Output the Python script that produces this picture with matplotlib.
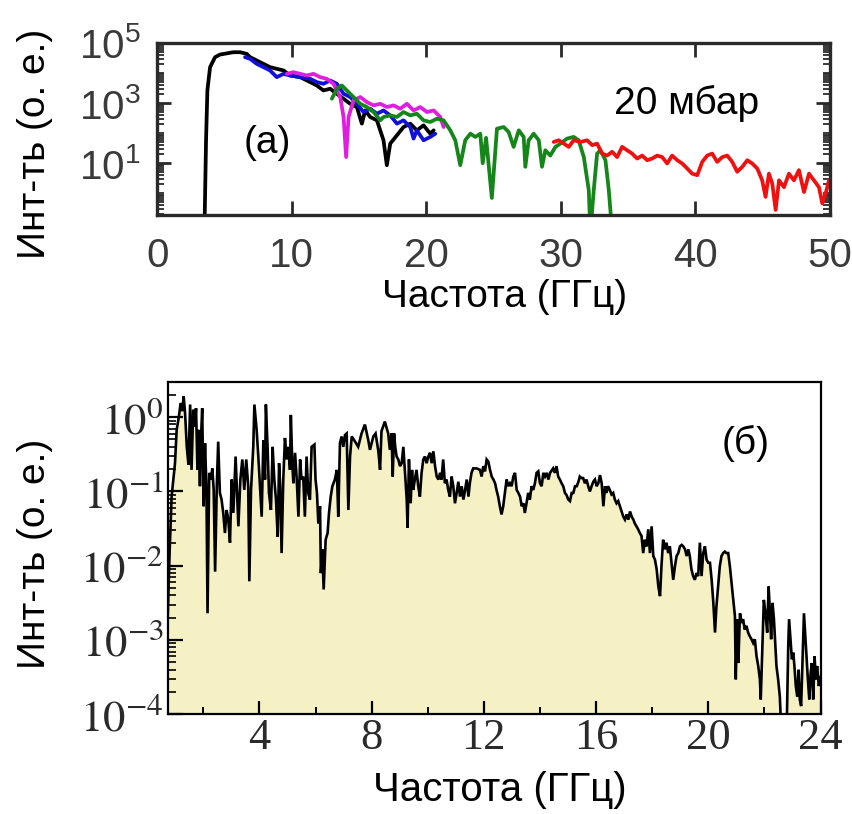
import matplotlib
matplotlib.use("Agg")
import matplotlib.pyplot as plt
import numpy as np
from matplotlib.ticker import LogLocator, NullFormatter, MultipleLocator

# ---------------- data: panel (a) ----------------
black_f = [3.50, 3.62, 3.72, 3.92, 4.29, 4.66, 5.65, 6.15, 6.65, 6.90, 7.64, 8.38, 9.38, 9.87,
           10.62, 11.36, 11.86, 12.35, 12.85, 13.35, 14.34, 14.84, 15.21, 15.46, 15.83, 16.33,
           16.82, 17.07, 17.32, 17.82, 18.31, 18.81, 19.30, 19.80, 20.30, 20.55]
black_I = [0.05, 58, 2640, 15700, 33700, 41200, 49300, 49300, 43400, 33700, 23000, 15700, 12200, 8300,
           7300, 5000, 3860, 2640, 3000, 2050, 950, 740, 207, 570, 345, 267,
           58, 8.6, 45, 85, 160, 207, 124, 182, 96, 124]

blue_f = [6.52, 6.90, 7.39, 7.89, 8.38, 8.88, 9.38, 9.87, 10.62, 11.36, 11.86, 12.35, 12.85, 13.35,
          13.85, 14.34, 14.84, 15.33, 15.83, 16.33, 16.82, 17.32, 17.82, 18.31, 18.81, 19.06,
          19.30, 19.80, 20.30, 20.67]
blue_I = [33700, 29600, 20200, 15700, 12200, 7300, 9400, 8300, 7300, 6430, 5000, 4390, 5660, 4390,
          2050, 1590, 950, 505, 650, 444, 570, 390, 207, 267, 160, 66,
          124, 58, 75, 96]

magenta_f = [9.63, 10.12, 10.62, 11.11, 11.61, 12.11, 12.60, 13.10, 13.60, 13.85, 14.04, 14.22,
             14.59, 15.09, 15.58, 16.08, 16.58, 17.07, 17.57, 18.06, 18.56, 19.06, 19.55, 20.05,
             20.55, 21.04, 21.29]
magenta_I = [9400, 10700, 9400, 8300, 9400, 7300, 6430, 4390, 1590, 345, 16, 345,
             1230, 1590, 1080, 840, 950, 740, 840, 650, 950, 570, 740, 505,
             570, 345, 160]

green_f = [12.98, 13.35, 13.72, 14.09, 14.59, 15.09, 15.58, 16.08, 16.58, 16.82, 17.32, 17.82,
           18.31, 18.81, 19.30, 19.80, 20.30, 20.79, 21.29, 21.79, 22.16, 22.53, 22.90, 23.28,
           23.65, 24.02, 24.20, 24.45, 24.88, 25.26, 25.76, 26.13, 26.50, 26.88, 27.25, 27.37,
           27.62, 27.99, 28.37, 28.61, 28.86, 29.23, 29.61, 29.98, 30.47, 30.97, 31.34, 31.72,
           32.09, 32.21, 32.46, 32.71, 32.96, 33.33, 33.58, 33.83]
green_I = [1400, 3000, 3860, 2640, 1590, 950, 740, 505, 267, 345, 390, 345,
           505, 390, 444, 267, 235, 303, 267, 124, 58, 8.6, 58, 96,
           75, 96, 10, 70, 0.7, 141, 160, 109, 35, 124, 75, 7.6,
           58, 96, 58, 7.6, 27, 18, 35, 45, 66, 75, 58, 16,
           1.27, 0.05, 1.27, 21, 27, 12.6, 1.27, 0.05]

red_f = [29.48, 29.85, 30.23, 30.60, 30.97, 31.47, 31.96, 32.34, 32.71, 33.08, 33.45, 33.83,
         34.20, 34.57, 34.94, 35.31, 35.69, 36.06, 36.43, 36.80, 37.18, 37.55, 37.92, 38.29,
         38.67, 39.04, 39.41, 39.78, 40.16, 40.53, 40.90, 41.27, 41.64, 42.02, 42.39, 42.76,
         43.13, 43.51, 43.88, 44.25, 44.62, 44.99, 45.24, 45.49, 45.74, 45.99, 46.24, 46.61,
         46.98, 47.35, 47.72, 48.10, 48.47, 48.84, 49.21, 49.46, 49.71, 49.96]
red_I = [51, 58, 45, 35, 58, 51, 58, 40, 45, 21, 18, 24,
         16, 35, 27, 21, 14.3, 18, 12.6, 14.3, 18, 16, 9.8, 18,
         12.6, 9.8, 6.7, 4.5, 4.0, 11.1, 18, 21, 11.1, 16, 18, 11.1,
         5.2, 7.6, 12.6, 9.8, 6.7, 2.7, 0.76, 4.5, 2.1, 0.28, 2.7, 1.6,
         4.5, 2.7, 5.9, 1.1, 4.5, 2.7, 1.6, 0.46, 1.0, 2.7]

series_a = [
    (black_f, black_I, "#000000"),
    (blue_f, blue_I, "#1010d8"),
    (magenta_f, magenta_I, "#e01ee0"),
    (green_f, green_I, "#15861a"),
    (red_f, red_I, "#f01010"),
]

top_yticks = [1e1, 1e3, 1e5]
top_xticks = [0, 10, 20, 30, 40, 50]

# ---------------- data: panel (б) : (frequency GHz, log10 intensity) ----------------
spectrum_b = [
    (0.73, -2.70), (0.80, -1.80), (0.87, -1.07), (0.99, -0.62), (1.05, -0.17), (1.13, 0.01),
    (1.19, 0.19), (1.25, 0.08), (1.30, 0.28), (1.35, 0.05), (1.41, -0.40), (1.47, -0.64),
    (1.53, 0.17), (1.58, -0.71), (1.64, 0.10), (1.70, -0.13), (1.74, 0.12), (1.79, -0.71),
    (1.82, -0.17), (1.88, -0.93), (1.92, -0.26), (1.96, 0.12), (2.01, -1.20), (2.06, -0.35),
    (2.11, -0.93), (2.15, -2.64), (2.21, -0.75), (2.27, -0.84), (2.32, -0.69), (2.37, -0.98),
    (2.42, -2.08), (2.48, -0.93), (2.53, -0.33), (2.59, -1.02), (2.65, -1.11), (2.71, -1.29),
    (2.77, -1.56), (2.83, -1.25), (2.89, -1.38), (2.95, -1.69), (3.01, -0.84), (3.07, -1.29),
    (3.15, -0.53), (3.25, -1.47), (3.32, -0.84), (3.39, -0.57), (3.46, -0.98), (3.53, -0.57),
    (3.60, -0.93), (3.64, -2.21), (3.70, -0.98), (3.78, -0.40), (3.82, 0.17), (3.90, -0.17),
    (3.96, -0.53), (4.02, -0.93), (4.08, -1.34), (4.14, -0.31), (4.20, -0.84), (4.23, 0.17),
    (4.29, -0.40), (4.34, -1.02), (4.41, -1.25), (4.47, -0.40), (4.53, -0.84), (4.59, -1.11),
    (4.65, -1.61), (4.70, -0.62), (4.74, -0.93), (4.79, -1.83), (4.85, -0.84), (4.91, -0.28),
    (4.97, -0.57), (5.03, -0.40), (5.09, -0.71), (5.12, 0.03), (5.17, -0.62), (5.21, -0.89),
    (5.27, -0.48), (5.33, -0.84), (5.39, -1.34), (5.45, -0.57), (5.50, -0.84), (5.56, -0.80),
    (5.62, -1.34), (5.68, -0.53), (5.74, -1.02), (5.80, -1.11), (5.86, -0.40), (5.96, -0.37),
    (6.00, -0.84), (6.05, -1.02), (6.10, -1.43), (6.16, -1.20), (6.19, -2.10), (6.24, -1.78),
    (6.29, -2.32), (6.36, -1.65), (6.43, -1.56), (6.48, -1.29), (6.54, -1.07), (6.60, -0.93),
    (6.69, -0.84), (6.76, -0.71), (6.81, -1.34), (6.87, -0.35), (6.93, -0.26), (6.99, -0.40),
    (7.05, -0.24), (7.11, -0.22), (7.17, -1.25), (7.23, -0.53), (7.29, -0.26), (7.41, -0.33),
    (7.52, -0.40), (7.64, -0.22), (7.76, -0.10), (7.88, -0.31), (7.94, -0.44), (8.06, -0.26),
    (8.14, -0.22), (8.24, -0.46), (8.30, -0.71), (8.35, -0.19), (8.47, -0.06), (8.59, -0.22),
    (8.65, -0.44), (8.71, -0.22), (8.75, -0.80), (8.80, -0.22), (8.84, -0.40), (8.89, -0.53),
    (8.95, -0.57), (9.01, -0.66), (9.07, -0.62), (9.13, -0.40), (9.19, -0.75), (9.25, -1.11),
    (9.28, -1.49), (9.33, -0.57), (9.39, -1.16), (9.44, -0.71), (9.48, -0.98), (9.54, -0.84),
    (9.60, -0.71), (9.66, -0.93), (9.72, -1.07), (9.78, -0.75), (9.84, -0.57), (9.90, -0.53),
    (9.96, -0.62), (10.02, -0.53), (10.08, -0.48), (10.14, -0.62), (10.20, -0.46), (10.26, -0.66),
    (10.32, -0.80), (10.38, -0.84), (10.44, -0.75), (10.49, -0.84), (10.55, -0.57), (10.61, -0.89),
    (10.67, -0.84), (10.73, -0.98), (10.79, -1.07), (10.85, -0.80), (10.91, -0.93), (10.97, -1.16),
    (11.03, -1.02), (11.09, -0.87), (11.15, -1.07), (11.21, -0.93), (11.27, -1.11), (11.33, -0.98),
    (11.39, -0.84), (11.45, -1.07), (11.50, -0.89), (11.56, -0.75), (11.62, -0.69), (11.74, -0.69),
    (11.86, -0.71), (11.92, -0.80), (11.98, -0.66), (12.04, -0.73), (12.10, -0.57), (12.16, -0.60),
    (12.22, -0.71), (12.28, -0.80), (12.34, -0.84), (12.40, -0.89), (12.45, -0.98), (12.51, -1.07),
    (12.57, -1.20), (12.63, -1.31), (12.69, -1.20), (12.75, -1.02), (12.81, -0.84), (12.87, -0.93),
    (12.93, -0.89), (12.99, -0.93), (13.05, -0.80), (13.11, -0.75), (13.17, -0.98), (13.23, -1.02),
    (13.29, -1.07), (13.35, -1.20), (13.41, -1.16), (13.46, -1.29), (13.52, -1.16), (13.58, -1.02),
    (13.64, -1.11), (13.70, -0.93), (13.76, -0.98), (13.82, -0.89), (13.88, -0.75), (13.94, -0.73),
    (14.00, -0.89), (14.06, -0.93), (14.12, -0.75), (14.18, -0.80), (14.24, -0.75), (14.30, -0.84),
    (14.36, -0.75), (14.47, -0.69), (14.53, -0.75), (14.59, -0.66), (14.65, -0.80), (14.71, -0.84),
    (14.77, -0.89), (14.83, -0.93), (14.89, -1.02), (14.95, -1.05), (15.01, -1.11), (15.07, -1.13),
    (15.13, -1.02), (15.19, -1.02), (15.25, -0.93), (15.31, -0.93), (15.37, -0.87), (15.42, -0.80),
    (15.48, -0.82), (15.54, -0.82), (15.60, -0.89), (15.66, -0.84), (15.72, -0.93), (15.78, -1.00),
    (15.84, -0.93), (15.90, -0.87), (15.96, -0.84), (16.02, -0.93), (16.08, -0.89), (16.14, -0.78),
    (16.20, -0.89), (16.26, -1.20), (16.32, -0.93), (16.37, -1.02), (16.43, -0.93),
    (16.49, -0.98), (16.55, -1.04), (16.61, -1.02), (16.67, -1.11), (16.73, -1.16), (16.79, -1.13),
    (16.85, -1.20), (16.91, -1.27), (16.97, -1.34), (17.03, -1.38), (17.09, -1.31), (17.15, -1.38),
    (17.21, -1.27), (17.27, -1.34), (17.33, -1.38), (17.38, -1.43), (17.44, -1.47), (17.50, -1.51),
    (17.56, -1.56), (17.62, -1.60), (17.68, -1.83), (17.74, -1.65), (17.80, -1.74), (17.86, -1.51),
    (17.92, -1.83), (17.98, -1.47), (18.04, -1.87), (18.10, -1.92), (18.16, -2.05), (18.22, -2.28),
    (18.28, -2.41), (18.33, -2.01), (18.39, -1.65), (18.45, -1.78), (18.51, -1.69), (18.57, -1.83),
    (18.63, -1.74), (18.69, -1.96), (18.75, -2.19), (18.81, -2.01), (18.87, -1.87), (18.93, -1.83),
    (18.99, -1.74), (19.05, -1.72), (19.11, -1.74), (19.17, -1.78), (19.23, -1.87), (19.29, -1.78),
    (19.34, -1.87), (19.40, -2.05), (19.46, -2.14), (19.52, -2.19), (19.58, -2.10), (19.64, -2.14),
    (19.70, -1.69), (19.76, -2.14), (19.82, -1.83), (19.88, -1.74), (19.94, -1.92), (20.00, -1.96),
    (20.06, -1.96), (20.12, -2.19), (20.18, -2.50), (20.24, -2.90), (20.29, -2.55), (20.35, -2.28),
    (20.41, -2.01), (20.47, -1.87), (20.53, -1.83), (20.59, -1.81), (20.65, -1.83), (20.71, -1.83),
    (20.77, -2.01), (20.83, -2.23), (20.89, -2.46), (20.95, -2.68), (20.98, -3.53), (21.03, -2.72),
    (21.07, -3.31), (21.13, -2.64), (21.19, -2.77), (21.24, -2.72), (21.30, -2.86), (21.36, -2.81),
    (21.42, -2.90), (21.48, -2.95), (21.54, -2.99), (21.60, -3.04), (21.66, -2.99), (21.72, -3.22),
    (21.78, -3.35), (21.84, -3.53), (21.87, -3.80), (21.93, -3.08), (21.98, -2.46), (22.04, -2.64),
    (22.10, -2.90), (22.15, -2.28), (22.20, -2.64), (22.24, -2.99), (22.29, -2.50), (22.34, -2.72),
    (22.39, -3.08), (22.43, -3.35), (22.49, -3.53), (22.55, -3.76), (22.61, -4.30), (22.67, -4.30),
    (22.73, -4.30), (22.79, -4.30), (22.85, -3.08), (22.88, -2.72), (22.93, -2.99), (22.98, -3.26),
    (23.03, -3.17), (23.07, -3.35), (23.12, -3.62), (23.17, -3.76), (23.22, -3.40), (23.26, -3.80),
    (23.31, -3.89), (23.36, -3.26), (23.41, -2.64), (23.45, -2.90), (23.50, -3.22), (23.55, -3.53),
    (23.60, -3.80), (23.65, -3.44), (23.69, -3.31), (23.74, -3.80), (23.79, -3.22), (23.83, -3.53),
    (23.88, -3.35), (23.94, -3.62), (24.00, -3.50),
]

bottom_xticks = [4, 8, 12, 16, 20, 24]
bottom_yticks = [1e-4, 1e-3, 1e-2, 1e-1, 1e0]

# ---------------- styling ----------------
plt.rcParams['font.family'] = ['Liberation Sans', 'DejaVu Sans']
plt.rcParams['mathtext.fontset'] = 'custom'
plt.rcParams['mathtext.rm'] = 'Liberation Sans'
plt.rcParams['mathtext.it'] = 'Liberation Sans:italic'
plt.rcParams['mathtext.bf'] = 'Liberation Sans:bold'
plt.rcParams['mathtext.sf'] = 'Liberation Sans'

fig = plt.figure(figsize=(8.53, 8.14), dpi=100)
ax1 = fig.add_axes([0.1845, 0.7359, 0.788, 0.2113])
ax2 = fig.add_axes([0.1966, 0.1225, 0.7653, 0.4086])

# ---- panel (a) ----
for f, I, c in series_a:
    ax1.plot(f, I, color=c, lw=2.7, solid_joinstyle='round', solid_capstyle='round')
ax1.set_yscale('log')
ax1.set_xlim(0, 50)
ax1.set_ylim(0.19, 1e5)
ax1.set_yticks(top_yticks, [r'$10^{%d}$' % round(np.log10(v)) for v in top_yticks])
ax1.yaxis.set_minor_locator(LogLocator(base=10, subs=np.arange(1, 10), numticks=60))
ax1.yaxis.set_minor_formatter(NullFormatter())
ax1.set_xticks(top_xticks, [str(v) for v in top_xticks])
ax1.tick_params(axis='both', which='both', direction='in', top=True, right=True,
                color='#2a2a2a', labelcolor='#3a3a3a')
ax1.tick_params(which='major', length=10, width=2.0, labelsize=29)
ax1.tick_params(axis='y', which='major', pad=12)
ax1.tick_params(axis='x', which='major', pad=16)
ax1.tick_params(which='minor', length=5, width=1.3)
for s in ax1.spines.values():
    s.set_linewidth(2.4)
    s.set_color('#2a2a2a')
ax1.set_xlabel('Частота (ГГц)', fontsize=28, va='center')
ax1.xaxis.set_label_coords(0.517, -0.475)
ax1.set_ylabel('Инт-ть (о. е.)', fontsize=28, va='center')
ax1.yaxis.set_label_coords(-0.182, 0.413)
ax1.text(0.163, 0.419, '(а)', transform=ax1.transAxes, fontsize=28, ha='center', va='center')
ax1.text(0.787, 0.649, '20 мбар', transform=ax1.transAxes, fontsize=28, ha='center', va='center')

# ---- panel (б) ----
fb = np.array([p[0] for p in spectrum_b])
Ib = 10.0 ** np.array([p[1] for p in spectrum_b])
ax2.fill_between(fb, Ib, 1e-6, color='#f6f1c4', lw=0)
ax2.plot(fb, Ib, color='black', lw=1.9, solid_joinstyle='miter')
ax2.set_yscale('log')
ax2.set_xlim(0.73, 24)
ax2.set_ylim(1e-4, 3)
ax2.set_xticks(bottom_xticks, [str(v) for v in bottom_xticks],
               fontfamily='Liberation Serif', fontsize=32)
ax2.xaxis.set_minor_locator(MultipleLocator(2))
ax2.set_yticks(bottom_yticks, [r'$10^{%d}$' % round(np.log10(v)) for v in bottom_yticks],
               math_fontfamily='stix', fontsize=32)
ax2.yaxis.set_minor_locator(LogLocator(base=10, subs=np.arange(2, 10), numticks=60))
ax2.yaxis.set_minor_formatter(NullFormatter())
ax2.tick_params(axis='both', which='both', direction='in', color='black', labelcolor='#2a2a2a')
ax2.tick_params(axis='x', which='major', length=9.5, width=1.6, pad=3)
ax2.tick_params(axis='x', which='minor', length=5, width=1.4)
ax2.tick_params(axis='y', which='major', length=11, width=1.6, pad=3)
ax2.tick_params(axis='y', which='minor', length=6, width=1.2)
for s in ax2.spines.values():
    s.set_linewidth(1.6)
    s.set_color('black')
ax2.set_xlabel('Частота (ГГц)', fontsize=29, va='center')
ax2.xaxis.set_label_coords(0.509, -0.229)
ax2.set_ylabel('Инт-ть (о. е.)', fontsize=28, va='center')
ax2.yaxis.set_label_coords(-0.203, 0.482)
ax2.text(0.885, 0.815, '(б)', transform=ax2.transAxes, fontsize=28, ha='center', va='center')

fig.savefig('out.png', dpi=100)
